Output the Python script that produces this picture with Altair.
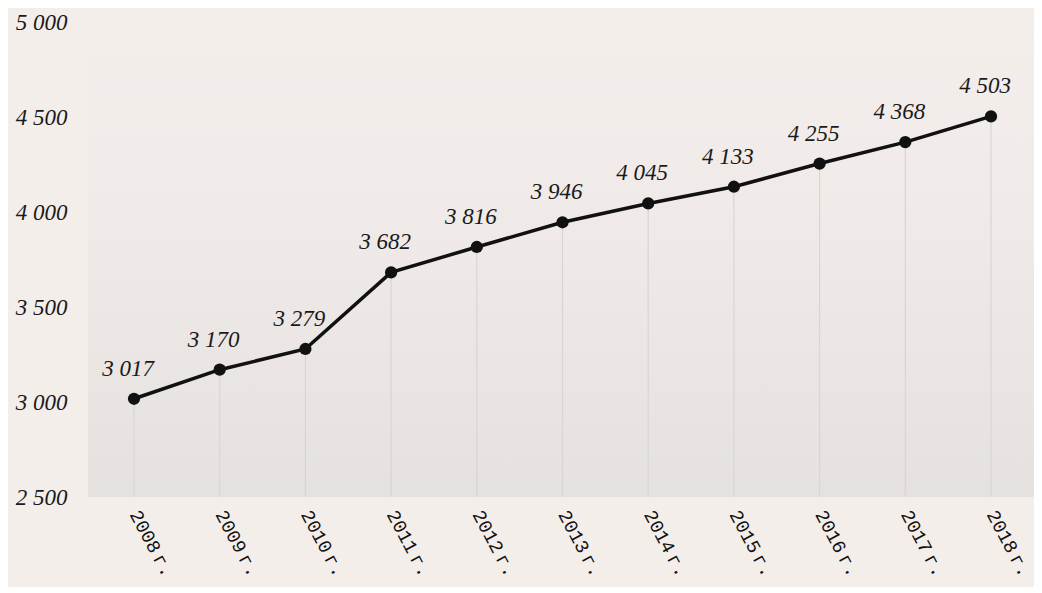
import altair as alt
import pandas as pd

years = ["2008\u2009г.", "2009\u2009г.", "2010\u2009г.", "2011\u2009г.", "2012\u2009г.", "2013\u2009г.",
         "2014\u2009г.", "2015\u2009г.", "2016\u2009г.", "2017\u2009г.", "2018\u2009г."]
values = [3017, 3170, 3279, 3682, 3816, 3946, 4045, 4133, 4255, 4368, 4503]
y_ticks = [2500, 3000, 3500, 4000, 4500, 5000]

df = pd.DataFrame({"year": years, "value": values})
df["label"] = [f"{v:,}".replace(",", " ") for v in values]

W, H = 940, 475

xenc = alt.X(
    "year:N", sort=years,
    scale=alt.Scale(type="point", range=[40, 897], padding=0),
    axis=alt.Axis(title=None, labelAngle=62, labelAlign="left", labelBaseline="middle",
                  labelFont="Liberation Mono", labelFontSize=19, labelColor="#111111",
                  labelPadding=14, ticks=False, domain=False, grid=False),
)
yenc = alt.Y(
    "value:Q",
    scale=alt.Scale(domain=[2500, 5000], nice=False, zero=False),
    axis=alt.Axis(title=None, values=y_ticks,
                  labelExpr="replace(format(datum.value, ','), ',', ' ')",
                  labelFont="Liberation Serif", labelFontStyle="italic", labelFontSize=23,
                  labelColor="#1a1a1a", labelPadding=27, ticks=False, domain=False, grid=False),
)

bg = alt.Chart(pd.DataFrame({"a": [0]})).mark_rect(
    fill=alt.Gradient(gradient="linear", x1=0, x2=0, y1=0, y2=1,
                      stops=[alt.GradientStop(offset=0, color="#f4eeeb"),
                             alt.GradientStop(offset=0.45, color="#efeae8"),
                             alt.GradientStop(offset=1, color="#e5e1df")])
).encode(x=alt.value(-6), x2=alt.value(W), y=alt.value(0), y2=alt.value(H))

base = alt.Chart(df)
rules = base.mark_rule(color="#d9d5d3", strokeWidth=1.2).encode(
    x=xenc, y=yenc, y2=alt.value(H))
line = base.mark_line(color="#111111", strokeWidth=3.5).encode(x=xenc, y=yenc)
pts = base.mark_circle(size=150, color="#111111", opacity=1).encode(x=xenc, y=yenc)
labels = base.mark_text(dx=-6, dy=-30, font="Liberation Serif", fontStyle="italic",
                        fontSize=23, color="#1a1a1a").encode(x=xenc, y=yenc, text="label:N")

chart = alt.layer(bg, rules, line, pts, labels).properties(
    width=W, height=H,
    autosize=alt.AutoSizeParams(type="none"),
    padding={"left": 86, "top": 14, "right": 0, "bottom": 90},
    background="#f4eeeb",
).configure_view(stroke=None)

chart.save("out.html", embed_options={"renderer": "svg", "actions": False})
